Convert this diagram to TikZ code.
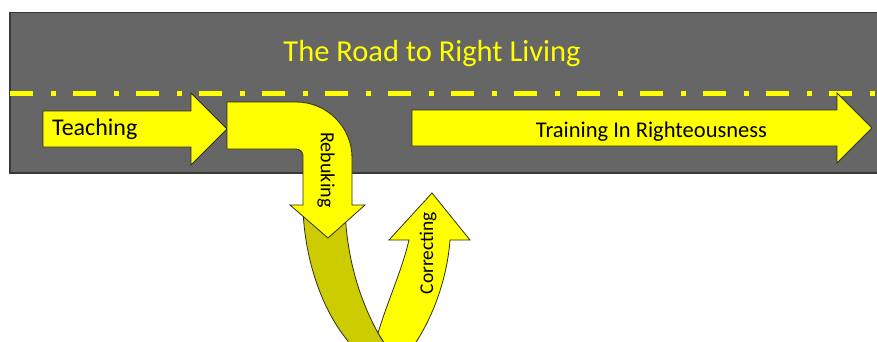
\documentclass[tikz,border=0pt]{standalone}
\usepackage{fontspec}
\setmainfont{Carlito}
\usetikzlibrary{positioning}

\definecolor{roadgray}{HTML}{666666}
\definecolor{roadedge}{HTML}{3A3A3A}
\definecolor{paint}{HTML}{FFFF00}
\definecolor{paintdark}{HTML}{CCCC00}
\definecolor{rim}{HTML}{2E2E1A}

\begin{document}
\begin{tikzpicture}[
        x=1pt,
        y=-1pt,
        road/.style={
            fill=roadgray,
            draw=roadedge,
            line width=1.3pt
        },
        lane/.style={
            draw=paint,
            line width=5pt,
            dash pattern=on 23pt off 18pt on 5pt off 17pt
        },
        arrowbody/.style={
            fill=paint,
            draw=rim,
            line width=0.8pt,
            line join=miter
        },
        backbody/.style={
            arrowbody,
            fill=paintdark
        },
        word/.style={
            inner sep=0pt,
            text=black
        }
    ]

    \useasboundingbox (0,0) rectangle (877,341);
    \clip (0,0) rectangle (877,341);

    % Road and lane marking
    \draw[road] (10,12.5) rectangle (880,173);
    \node[word, anchor=base, text=paint, font=\fontsize{30.5}{36}\selectfont] (title) at (432,61) {The Road to Right Living};
    \draw[lane] (10,93) -- (880,93);

    % Teaching arrow
    \draw[arrowbody] (43,111) -- (191,111) -- (191,93) -- (227,129) -- (191,165) -- (191,147) -- (43,147) -- cycle;
    \node[word, anchor=base west, font=\fontsize{24}{28}\selectfont] (teaching) at (52,135) {Teaching};

    % Training arrow
    \draw[arrowbody] (412,110) -- (837,110) -- (837,93) -- (872,128) -- (837,163) -- (837,146) -- (412,146) -- cycle;
    \node[word, anchor=base, font=\fontsize{22.5}{26}\selectfont] (training) at (651.5,137) {Training In Righteousness};

    % U-turn: back part, then front part
    \draw[backbody] (303,210) .. controls (305,260) and (322,310) .. (348,341) -- (352,362) -- (398,365) -- (378,333) .. controls (360,300) and (347,260) .. (345,210) -- cycle;
    \draw[arrowbody] (378,333) .. controls (388,300) and (402,270) .. (409,240) -- (389,240) -- (432,193) -- (470,240) -- (450,240) .. controls (447,280) and (432,320) .. (412,348) -- (398,365) -- cycle;
    \node[word, rotate=90, font=\fontsize{19.5}{23}\selectfont] (correcting) at (428,253) {Correcting};

    % Rebuking bent arrow
    \draw[arrowbody] (227,102) -- (296,102) .. controls (327,102) and (352,127) .. (352,158) -- (352,205) -- (365,205) -- (328,238) -- (290,205) -- (303,205) -- (303,156) .. controls (303,152) and (300,149) .. (296,149) -- (227,149) -- cycle;
    \node[word, rotate=-90, font=\fontsize{20}{24}\selectfont] (rebuking) at (326,170) {Rebuking};

\end{tikzpicture}
\end{document}
